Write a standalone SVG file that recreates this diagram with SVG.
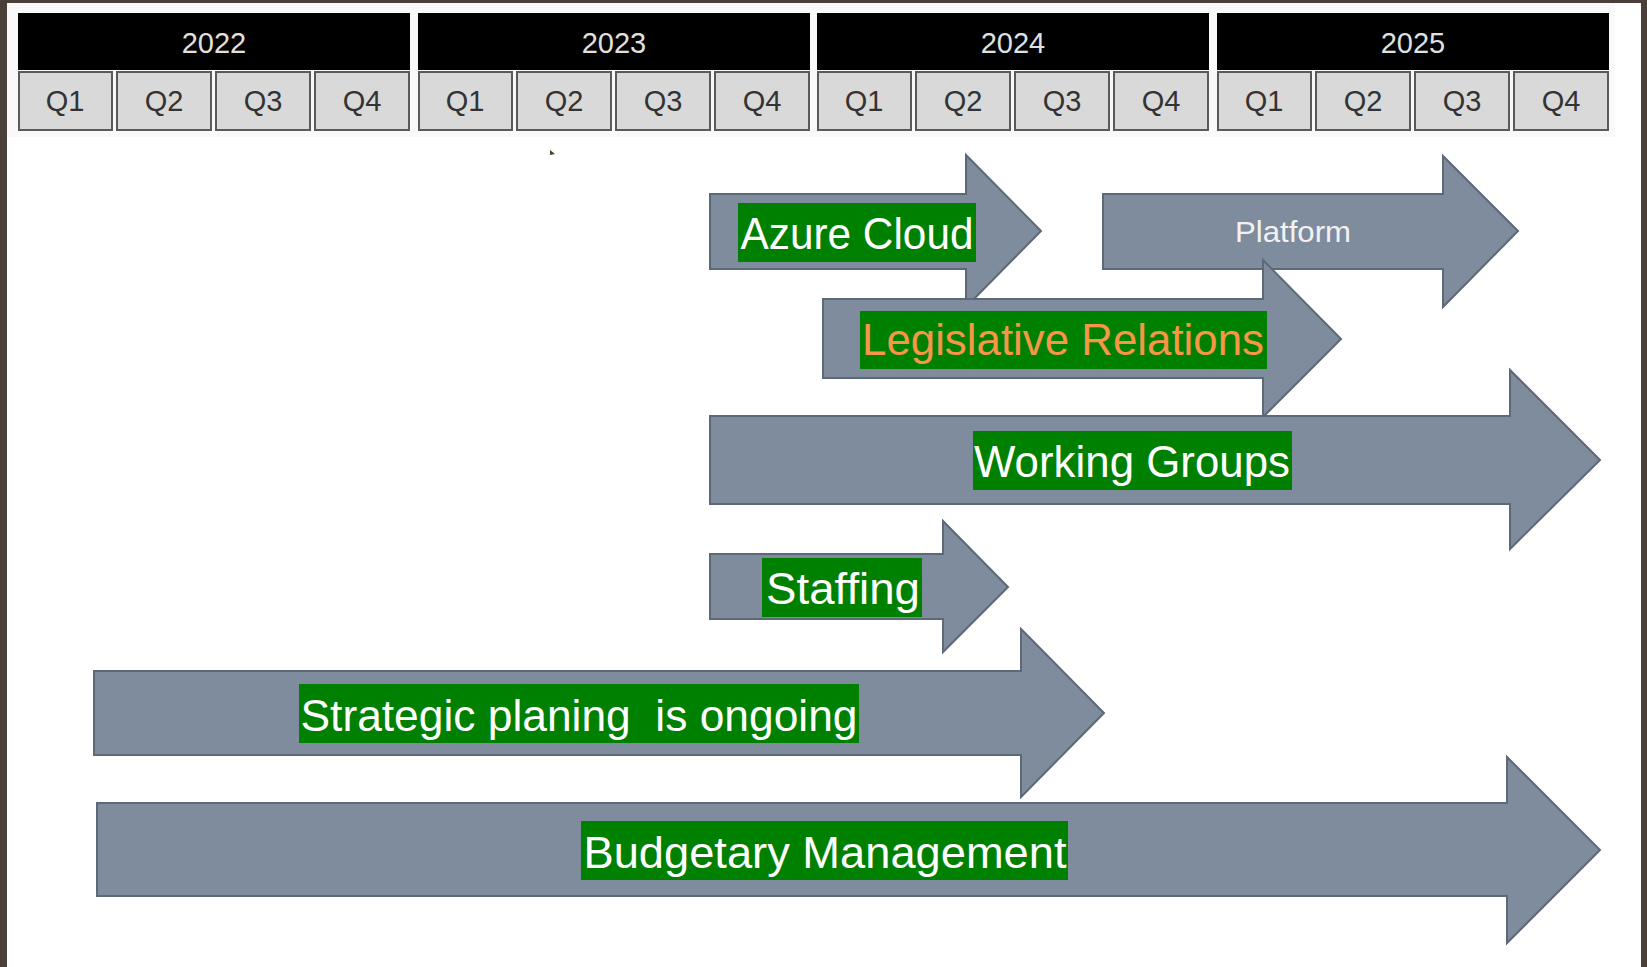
<svg xmlns="http://www.w3.org/2000/svg" width="1647" height="967" viewBox="0 0 1647 967">
<style>
.yr{fill:#000000}
.yt{font-family:"Liberation Sans",Arial,sans-serif;font-size:29px;fill:#e0e0e0;text-anchor:middle}
.q{fill:#d9d9d9;stroke:#5a5a5a;stroke-width:2}
.qt{font-family:"Liberation Sans",Arial,sans-serif;font-size:29px;fill:#333333;text-anchor:middle}
.arr{fill:#7f8c9d;stroke:#5d6878;stroke-width:2;stroke-linejoin:miter}
.lb{fill:#008000}
.lt{font-family:"Liberation Sans",Arial,sans-serif;font-size:44px;fill:#ffffff;text-anchor:middle;white-space:pre}
.or{fill:#f79646}
.pt{font-family:"Liberation Sans",Arial,sans-serif;font-size:29px;fill:#f2f2f2;text-anchor:middle}
</style>
<rect x="0" y="0" width="1647" height="967" fill="#ffffff"/>
<rect x="7" y="3" width="1608" height="134" fill="#f9f9f9"/>
<rect x="0" y="0" width="1647" height="3" fill="#4b3f39"/>
<rect x="0" y="0" width="7" height="967" fill="#4b3f39"/>
<rect x="1641" y="0" width="6" height="967" fill="#4b3f39"/>

<g id="header">
  <g id="y2022">
    <rect class="yr" x="18" y="13" width="392" height="57"/>
    <text class="yt" x="214" y="53">2022</text>
    <rect class="q" x="19" y="72" width="93" height="58"/><text class="qt" x="65" y="111">Q1</text>
    <rect class="q" x="117" y="72" width="94" height="58"/><text class="qt" x="164" y="111">Q2</text>
    <rect class="q" x="216" y="72" width="94" height="58"/><text class="qt" x="263" y="111">Q3</text>
    <rect class="q" x="315" y="72" width="94" height="58"/><text class="qt" x="362" y="111">Q4</text>
  </g>
  <g id="y2023">
    <rect class="yr" x="418" y="13" width="392" height="57"/>
    <text class="yt" x="614" y="53">2023</text>
    <rect class="q" x="419" y="72" width="93" height="58"/><text class="qt" x="465" y="111">Q1</text>
    <rect class="q" x="517" y="72" width="94" height="58"/><text class="qt" x="564" y="111">Q2</text>
    <rect class="q" x="616" y="72" width="94" height="58"/><text class="qt" x="663" y="111">Q3</text>
    <rect class="q" x="715" y="72" width="94" height="58"/><text class="qt" x="762" y="111">Q4</text>
  </g>
  <g id="y2024">
    <rect class="yr" x="817" y="13" width="392" height="57"/>
    <text class="yt" x="1013" y="53">2024</text>
    <rect class="q" x="818" y="72" width="93" height="58"/><text class="qt" x="864" y="111">Q1</text>
    <rect class="q" x="916" y="72" width="94" height="58"/><text class="qt" x="963" y="111">Q2</text>
    <rect class="q" x="1015" y="72" width="94" height="58"/><text class="qt" x="1062" y="111">Q3</text>
    <rect class="q" x="1114" y="72" width="94" height="58"/><text class="qt" x="1161" y="111">Q4</text>
  </g>
  <g id="y2025">
    <rect class="yr" x="1217" y="13" width="392" height="57"/>
    <text class="yt" x="1413" y="53">2025</text>
    <rect class="q" x="1218" y="72" width="93" height="58"/><text class="qt" x="1264" y="111">Q1</text>
    <rect class="q" x="1316" y="72" width="94" height="58"/><text class="qt" x="1363" y="111">Q2</text>
    <rect class="q" x="1415" y="72" width="94" height="58"/><text class="qt" x="1462" y="111">Q3</text>
    <rect class="q" x="1514" y="72" width="94" height="58"/><text class="qt" x="1561" y="111">Q4</text>
  </g>
</g>
<polygon points="550,150 555,154 550,155" fill="#3d4a2a"/>

<g id="azure">
  <polygon class="arr" points="710,194 966,194 966,155 1041,231 966,307 966,269 710,269"/>
  <rect class="lb" x="738" y="203" width="238" height="59"/>
  <text class="lt" x="857" y="249" textLength="233" lengthAdjust="spacingAndGlyphs">Azure Cloud</text>
</g>
<g id="platform">
  <polygon class="arr" points="1103,194 1443,194 1443,156 1518,231 1443,307 1443,269 1103,269"/>
  <text class="pt" x="1293" y="242" textLength="116" lengthAdjust="spacingAndGlyphs">Platform</text>
</g>
<g id="legislative">
  <polygon class="arr" points="823,299 1263,299 1263,260 1341,339 1263,417 1263,378 823,378"/>
  <rect class="lb" x="860" y="311" width="407" height="58"/>
  <text class="lt or" x="1063" y="355" textLength="402" lengthAdjust="spacingAndGlyphs">Legislative Relations</text>
</g>
<g id="working">
  <polygon class="arr" points="710,416 1510,416 1510,370 1600,460 1510,549 1510,504 710,504"/>
  <rect class="lb" x="973" y="431" width="319" height="59"/>
  <text class="lt" x="1132" y="477" textLength="316" lengthAdjust="spacingAndGlyphs">Working Groups</text>
</g>
<g id="staffing">
  <polygon class="arr" points="710,554 943,554 943,521 1008,587 943,652 943,619 710,619"/>
  <rect class="lb" x="762" y="558" width="160" height="59"/>
  <text class="lt" x="843" y="604" textLength="154" lengthAdjust="spacingAndGlyphs">Staffing</text>
</g>
<g id="strategic">
  <polygon class="arr" points="94,671 1021,671 1021,629 1104,713 1021,797 1021,755 94,755"/>
  <rect class="lb" x="299" y="684" width="560" height="59"/>
  <text class="lt" x="579" y="731" textLength="557" lengthAdjust="spacingAndGlyphs">Strategic planing  is ongoing</text>
</g>
<g id="budgetary">
  <polygon class="arr" points="97,803 1507,803 1507,757 1600,850 1507,943 1507,896 97,896"/>
  <rect class="lb" x="581" y="821" width="487" height="59"/>
  <text class="lt" x="825" y="868" textLength="483" lengthAdjust="spacingAndGlyphs">Budgetary Management</text>
</g>
<g id="connectors"></g>
</svg>
